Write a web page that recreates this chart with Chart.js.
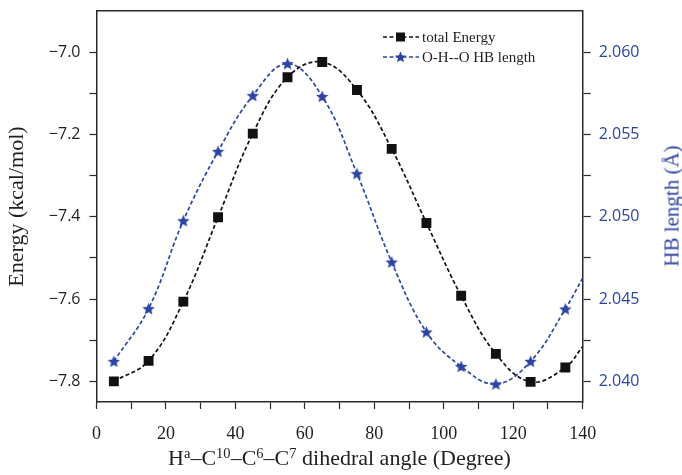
<!DOCTYPE html>
<html>
<head>
<meta charset="utf-8">
<script src="https://cdn.jsdelivr.net/npm/chart.js@4/dist/chart.umd.min.js"></script>
<style>
    html, body { margin: 0; padding: 0; background: #fff; }
    #wrap { position: relative; width: 682px; height: 475px; }
    #chart { position: absolute; left: 0; top: 0; }
    .serif { font-family: "Liberation Serif", "Times New Roman", serif; color: #222; }
    #xTitle {
        position: absolute; left: 0; width: 679px; top: 447px;
        text-align: center; font-size: 22px; line-height: 22px; white-space: nowrap;
    }
    #xTitle sup { font-size: 0.66em; line-height: 0; vertical-align: baseline; position: relative; top: -0.48em; }
    #y2Title {
        position: absolute; left: 672px; top: 206px; font-size: 21px; line-height: 21px;
        color: #2e44a4; white-space: nowrap; transform: translate(-50%, -50%) rotate(-90deg);
    }
    .legendRow {
        position: absolute; left: 383px; height: 16px; display: flex; align-items: center;
        font-size: 15px; white-space: nowrap;
    }
    .legendRow svg { margin-right: 3px; }
</style>
</head>
<body>
<div id="wrap">
    <canvas id="chart" width="682" height="475"></canvas>
    <div id="xTitle" class="serif">H<sup>a</sup>–C<sup>10</sup>–C<sup>6</sup>–C<sup>7</sup> dihedral angle (Degree)</div>
    <div id="y2Title" class="serif">HB length (Å)</div>
    <div class="legendRow serif" style="top: 29px;">
        <svg width="36" height="12">
            <line x1="0" y1="6" x2="36" y2="6" stroke="#111" stroke-width="1.7" stroke-dasharray="4 2.5"/>
            <rect x="13" y="1.5" width="9" height="9" fill="#111"/>
        </svg>
        <span>total Energy</span>
    </div>
    <div class="legendRow serif" style="top: 49px;">
        <svg width="36" height="12">
            <line x1="0" y1="6" x2="36" y2="6" stroke="#2e44a4" stroke-width="1.7" stroke-dasharray="4 2.5"/>
            <polygon id="legendStar" fill="#2e44a4"/>
        </svg>
        <span>O-H--O HB length</span>
    </div>
</div>
<script>
// dihedral scan: angle (degree), total energy (kcal/mol), O-H--O distance (Å)
const angles = [5, 15, 25, 35, 45, 55, 65, 75, 85, 95, 105, 115, 125, 135];
const energy = [-7.800, -7.750, -7.606, -7.401, -7.198, -7.061, -7.024, -7.092, -7.235, -7.415, -7.592, -7.733, -7.801, -7.766];
const hbLength = [2.04122, 2.04442, 2.04976, 2.05397, 2.05736, 2.05930, 2.05731, 2.05262, 2.04725, 2.04300, 2.04091, 2.03984, 2.04122, 2.04440];

// where the fitted curves leave the plot on the right
const curveEndAngle = 140;
const energyCurveEnd = -7.715;
const hbCurveEnd = 2.04628;

const BLUE = "#2e44a4";
const INK = "#1e1e1e";
const AXIS = "#2a2a2a";

function starPoints(cx, cy, outer, inner) {
    const pts = [];
    for (let i = 0; i < 10; i++) {
        const r = i % 2 === 0 ? outer : inner;
        const a = -Math.PI / 2 + (i * Math.PI) / 5;
        pts.push([cx + r * Math.cos(a), cy + r * Math.sin(a)]);
    }
    return pts;
}

function makeStar(size, color) {
    const c = document.createElement("canvas");
    c.width = size;
    c.height = size;
    const ctx = c.getContext("2d");
    ctx.fillStyle = color;
    ctx.beginPath();
    starPoints(size / 2, size / 2 + 0.6, size / 2, size / 4.4).forEach(([x, y], i) => {
        if (i === 0) ctx.moveTo(x, y); else ctx.lineTo(x, y);
    });
    ctx.closePath();
    ctx.fill();
    return c;
}

document.getElementById("legendStar").setAttribute(
    "points",
    starPoints(17.5, 6.5, 6, 2.7).map((p) => p.join(",")).join(" ")
);

const toXY = (xs, ys) => xs.map((x, i) => ({ x: x, y: ys[i] }));
const energyCurve = toXY(angles, energy).concat([{ x: curveEndAngle, y: energyCurveEnd }]);
const hbCurve = toXY(angles, hbLength).concat([{ x: curveEndAngle, y: hbCurveEnd }]);

const serif = "'Liberation Serif', 'Times New Roman', serif";
const sans = "'Open Sans', 'Noto Sans', sans-serif";

// outside ticks only; the one sitting on the top frame is left out
const axisBits = (tickLength, skipValue) => ({
    grid: {
        display: true,
        drawOnChartArea: false,
        drawTicks: true,
        tickLength: tickLength,
        color: AXIS,
        tickWidth: 1.2,
        tickColor: (ctx) =>
            skipValue !== undefined && ctx.tick && Math.abs(ctx.tick.value - skipValue) < 1e-9
                ? "rgba(0,0,0,0)"
                : AXIS,
    },
    border: { display: true, color: AXIS, width: 1.5 },
});

// fixed box sizes so the plot area stays put, no extra room for end labels
const fixWidth = (w) => (s) => { s.width = w; s.paddingTop = 0; s.paddingBottom = 0; };
const fixHeight = (h) => (s) => { s.height = h; s.paddingLeft = 0; s.paddingRight = 0; };

new Chart(document.getElementById("chart"), {
    type: "line",
    data: {
        datasets: [
            {
                data: energyCurve,
                yAxisID: "y",
                borderColor: "#111",
                borderWidth: 1.7,
                borderDash: [4, 2.5],
                pointRadius: 0,
                tension: 0.4,
                fill: false,
                order: 2,
            },
            {
                data: hbCurve,
                yAxisID: "y1",
                borderColor: BLUE,
                borderWidth: 1.7,
                borderDash: [4, 2.5],
                pointRadius: 0,
                tension: 0.4,
                fill: false,
                order: 2,
            },
            {
                data: toXY(angles, energy),
                yAxisID: "y",
                showLine: false,
                pointStyle: "rect",
                pointRadius: 7,
                pointBackgroundColor: "#111",
                pointBorderWidth: 0,
                order: 1,
            },
            {
                data: toXY(angles, hbLength),
                yAxisID: "y1",
                showLine: false,
                pointStyle: makeStar(13, BLUE),
                pointRadius: 7,
                order: 1,
            },
        ],
    },
    options: {
        responsive: false,
        animation: false,
        devicePixelRatio: 1,
        layout: { padding: 0 },
        plugins: {
            legend: { display: false },
            tooltip: { enabled: false },
        },
        scales: {
            x: {
                type: "linear",
                position: "bottom",
                min: 0,
                max: 140,
                afterFit: fixHeight(73),
                ticks: {
                    stepSize: 10,
                    autoSkip: false,
                    maxRotation: 0,
                    padding: 14,
                    color: INK,
                    font: { family: serif, size: 18 },
                    callback: (v) => (v % 20 === 0 ? String(v) : ""),
                },
                ...axisBits(7),
            },
            xTop: {
                type: "linear",
                position: "top",
                min: 0,
                max: 140,
                afterFit: fixHeight(11),
                ticks: { display: false },
                grid: { display: false, drawTicks: false },
                border: { display: true, color: AXIS, width: 1.5 },
            },
            y: {
                type: "linear",
                position: "left",
                min: -7.85,
                max: -6.9,
                afterFit: fixWidth(96.5),
                title: {
                    display: true,
                    text: "Energy (kcal/mol)",
                    color: INK,
                    font: { family: serif, size: 22 },
                    padding: { top: 4.5, bottom: 0 },
                },
                ticks: {
                    stepSize: 0.1,
                    includeBounds: false,
                    autoSkip: false,
                    padding: 9,
                    color: INK,
                    font: { family: sans, size: 16 },
                    callback: (v) => {
                        const tenths = Math.round(v * 10);
                        if (tenths % 2 !== 0) return "";
                        return "\u2212" + Math.abs(tenths / 10).toFixed(1);
                    },
                },
                ...axisBits(7, -6.9),
            },
            y1: {
                type: "linear",
                position: "right",
                min: 2.03875,
                max: 2.0625,
                afterFit: fixWidth(99.3),
                ticks: {
                    stepSize: 0.0025,
                    includeBounds: false,
                    autoSkip: false,
                    padding: 8,
                    color: BLUE,
                    font: { family: sans, size: 16 },
                    callback: (v) => {
                        const steps = Math.round(v / 0.0025);
                        return steps % 2 === 0 ? v.toFixed(3) : "";
                    },
                },
                ...axisBits(8, 2.0625),
            },
        },
    },
});
</script>
</body>
</html>
